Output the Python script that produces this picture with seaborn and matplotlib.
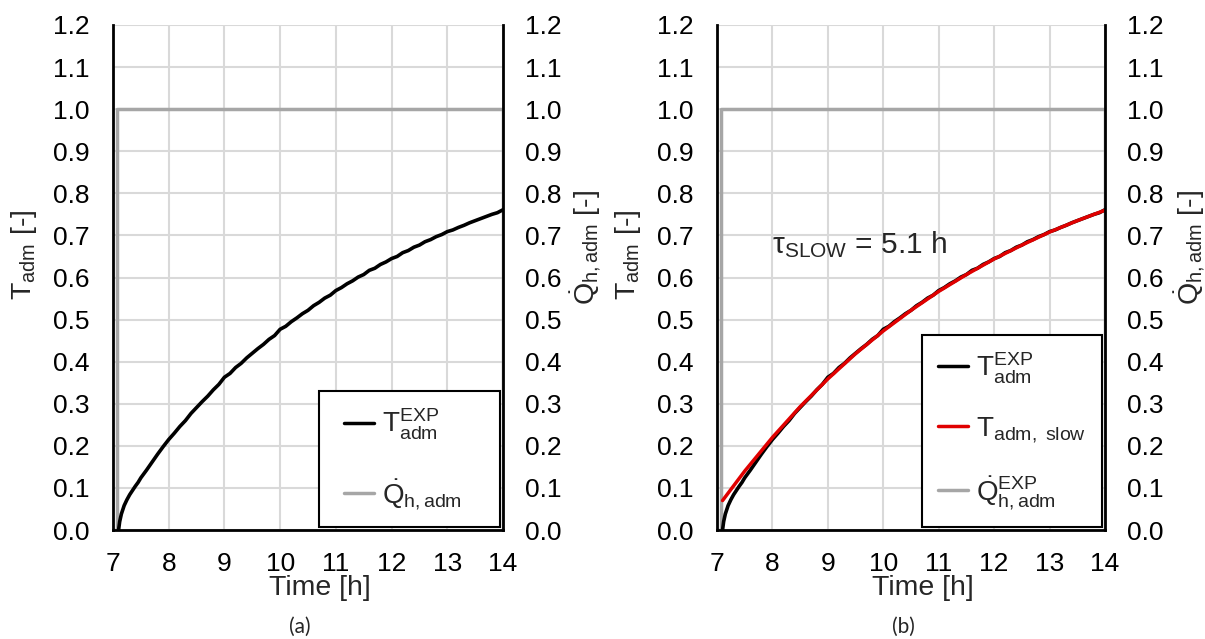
import matplotlib
matplotlib.use("Agg")
import matplotlib.pyplot as plt
import seaborn as sns
import pandas as pd
from matplotlib.lines import Line2D
from matplotlib.legend_handler import HandlerLine2D
from matplotlib.transforms import Bbox, TransformedBbox

sns.set_style("white")
plt.rcParams["font.family"] = ["Liberation Sans", "DejaVu Sans"]
plt.rcParams["mathtext.fontset"] = "custom"
plt.rcParams["mathtext.rm"] = "Liberation Sans"
plt.rcParams["mathtext.it"] = "Liberation Sans"
plt.rcParams["mathtext.bf"] = "Liberation Sans:bold"
plt.rcParams["mathtext.default"] = "regular"

# Measured dimensionless temperature (experiment)
time_exp = [7.10, 7.12, 7.15, 7.20, 7.25, 7.30, 7.35, 7.40, 7.45, 7.50,
            7.60, 7.70, 7.80, 7.90, 8.00, 8.10, 8.20, 8.30, 8.40, 8.50,
            8.60, 8.70, 8.80, 8.90, 9.00, 9.10, 9.20, 9.30, 9.40, 9.50,
            9.60, 9.70, 9.80, 9.90, 10.00, 10.10, 10.20, 10.30, 10.40, 10.50,
            10.60, 10.70, 10.80, 10.90, 11.00, 11.10, 11.20, 11.30, 11.40, 11.50,
            11.60, 11.70, 11.80, 11.90, 12.00, 12.10, 12.20, 12.30, 12.40, 12.50,
            12.60, 12.70, 12.80, 12.90, 13.00, 13.10, 13.20, 13.30, 13.40, 13.50,
            13.60, 13.70, 13.80, 13.90, 14.00, 14.05]
t_adm_exp = [0.000, 0.020, 0.038, 0.058, 0.072, 0.084, 0.094, 0.104, 0.113, 0.124,
             0.142, 0.161, 0.180, 0.198, 0.215, 0.230, 0.246, 0.260, 0.277, 0.291,
             0.305, 0.318, 0.333, 0.346, 0.363, 0.372, 0.386, 0.396, 0.409, 0.420,
             0.431, 0.441, 0.453, 0.462, 0.477, 0.484, 0.495, 0.504, 0.514, 0.522,
             0.533, 0.541, 0.551, 0.558, 0.569, 0.576, 0.585, 0.592, 0.601, 0.607,
             0.617, 0.622, 0.631, 0.637, 0.645, 0.650, 0.659, 0.664, 0.672, 0.677,
             0.685, 0.690, 0.697, 0.702, 0.709, 0.713, 0.719, 0.724, 0.730, 0.735,
             0.740, 0.745, 0.750, 0.754, 0.761, 0.765]

# Slow first-order response (tau = 5.1 h)
time_slow = [7.1, 7.5, 8.0, 8.5, 9.0, 9.5, 10.0, 10.5, 11.0, 11.5,
             12.0, 12.5, 13.0, 13.5, 14.0]
t_adm_slow = [0.070, 0.140, 0.220, 0.293, 0.359, 0.419, 0.473, 0.522, 0.567, 0.607,
              0.644, 0.677, 0.708, 0.735, 0.760]

# Heating power step (normalised)
time_q = [7.00, 7.08, 7.08, 14.00, 14.00]
q_adm = [0.0, 0.0, 1.0, 1.0, 0.0]

x_ticks = [7, 8, 9, 10, 11, 12, 13, 14]
y_ticks = [0.0, 0.1, 0.2, 0.3, 0.4, 0.5, 0.6, 0.7, 0.8, 0.9, 1.0, 1.1, 1.2]

tau_label = "τ$_{SLOW}$ = 5.1 h"
lab_exp = "$T_{adm}^{EXP}$"
lab_slow = "$T_{adm,\\ slow}$"
lab_q_a = "$\\dot{Q}_{h,adm}$"
lab_q_b = "$\\dot{Q}_{h,adm}^{EXP}$"

BLACK = "#000000"
GRAY = "#A6A6A6"
RED = "#E00000"
GRID = "#D9D9D9"

W, H = 1205, 639
fig = plt.figure(figsize=(W / 100, H / 100), dpi=100)

df_exp = pd.DataFrame({"time": time_exp, "T": t_adm_exp})
df_slow = pd.DataFrame({"time": time_slow, "T": t_adm_slow})
df_q = pd.DataFrame({"time": time_q, "Q": q_adm})


def panel(left_px, width_px, with_fit, q_label, legend_box, clip_right_px,
          label_x2, spacing, hlen, hpad):
    ax = fig.add_axes([left_px / W, 1 - 530 / H, width_px / W, 505 / H])
    ax.set_xlim(7, 14)
    ax.set_ylim(0, 1.2)
    ax.set_xticks(x_ticks)
    ax.set_yticks(y_ticks)
    ax.set_yticklabels([f"{v:.1f}" for v in y_ticks])
    ax.grid(True, color=GRID, lw=1.5)
    ax.set_axisbelow(True)

    sns.lineplot(data=df_q, x="time", y="Q", ax=ax, color=GRAY, lw=2.5,
                 estimator=None, sort=False)
    sns.lineplot(data=df_exp, x="time", y="T", ax=ax, color=BLACK, lw=2.6,
                 estimator=None, sort=False)
    handles = [Line2D([], [], color=BLACK, lw=2.5)]
    labels = [lab_exp]
    if with_fit:
        sns.lineplot(data=df_slow, x="time", y="T", ax=ax, color=RED, lw=2.5,
                     estimator=None, sort=False)
        handles.append(Line2D([], [], color=RED, lw=2.5))
        labels.append(lab_slow)
        ax.text(7.99, 0.677, tau_label, fontsize=21.5, va="center", ha="left")
    handles.append(Line2D([], [], color=GRAY, lw=2.5))
    labels.append(q_label)

    for s in ("left", "right", "bottom"):
        ax.spines[s].set_visible(True)
        ax.spines[s].set_color(BLACK)
        ax.spines[s].set_linewidth(2)
    ax.spines["top"].set_visible(False)
    ax.tick_params(axis="both", length=0, labelsize=19, colors=BLACK)
    ax.tick_params(axis="y", pad=17)
    ax.tick_params(axis="x", pad=16)
    ax.set_xlabel("Time [h]", fontsize=20.5)
    ax.xaxis.set_label_coords(0.53, -0.09)
    ax.set_ylabel("$T_{adm}$ [-]", fontsize=20.5)
    ax.yaxis.set_label_coords(-0.19, 0.545)

    ax2 = ax.twinx()
    ax2.set_ylim(0, 1.2)
    ax2.set_yticks(y_ticks)
    ax2.set_yticklabels([f"{v:.1f}" for v in y_ticks])
    ax2.tick_params(axis="y", length=0, labelsize=19, pad=16, colors=BLACK)
    for s in ax2.spines.values():
        s.set_visible(False)
    ax2.grid(False)
    ax2.set_ylabel("$\\dot{Q}_{h,adm}$ [-]", fontsize=20.5)
    ax2.yaxis.set_label_coords(label_x2, 0.56)
    clip = TransformedBbox(Bbox([[0, 0], [clip_right_px / W, 1]]), fig.transFigure)
    ax2.yaxis.label.set_clip_box(clip)
    ax2.yaxis.label.set_clip_on(True)

    leg = ax2.legend(handles, labels, loc="lower left", mode="expand",
                     bbox_to_anchor=legend_box, fontsize=20, frameon=True,
                     fancybox=False, edgecolor=BLACK, framealpha=1,
                     handlelength=hlen, handletextpad=0.3, borderpad=0.55,
                     labelspacing=spacing, borderaxespad=0,
                     handler_map={Line2D: HandlerLine2D(xpad=hpad)})
    leg.get_frame().set_linewidth(1.5)
    if ax.get_legend() is not None:
        ax.get_legend().remove()
    return ax


panel(113, 390, False, lab_q_a, (0.527, 0.006, 0.466, 0.263), 600,
      1.168, 1.25, 1.45, 0.35)
panel(717, 388, True, lab_q_b, (0.529, 0.006, 0.464, 0.358), W,
      1.175, 1.05, 1.1, 0.0)

fig.text(300 / W, 1 - 627 / H, "(a)", ha="center", va="center", fontsize=15,
         family=["Lato", "DejaVu Sans"])
fig.text(903 / W, 1 - 627 / H, "(b)", ha="center", va="center", fontsize=15,
         family=["Lato", "DejaVu Sans"])

fig.savefig("out.png", dpi=100, facecolor="white")
